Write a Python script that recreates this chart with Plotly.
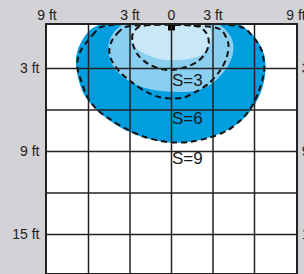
import plotly.graph_objects as go

# ---- data (feet) ----
x_tickvals = [-9, -3, 0, 3, 9]
x_ticktext = ["9 ft", "3 ft", "0", "3 ft", "9 ft"]
y_tickvals = [3, 9, 15]
y_ticktext = ["3 ft", "9 ft", "15 ft"]
grid_x = [-6, -3, 0, 3, 6]
grid_y = [3, 6, 9, 12, 15]

sensor_x = [0]
sensor_y = [0]

# filled zones
fill_s9_x = [-5.17, -5.89, -6.40, -6.76, -6.91, -6.87, -6.69, -6.33, -5.75, -4.88, -3.72, -2.28, -0.83, 0.0,
             0.98, 2.42, 3.87, 5.10, 5.89, 6.40, 6.69, 6.80, 6.69, 6.25, 5.68, 4.95]
fill_s9_y = [-0.2, 0.23, 0.88, 1.61, 2.33, 3.05, 3.92, 4.86, 5.66, 6.46, 7.25, 7.90, 8.26, 8.37,
             8.33, 8.08, 7.54, 6.74, 5.80, 4.86, 3.92, 2.91, 1.97, 1.03, 0.38, -0.2]
fill_s6_x = [-3.58, -4.16, -4.52, -4.56, -4.37, -3.87, -3.15, -2.28, -1.19, 0.0,
             1.34, 2.42, 3.22, 3.94, 4.37, 4.48, 4.23, 3.72, 3.43]
fill_s6_y = [-0.2, 0.38, 1.10, 1.75, 2.55, 3.27, 3.85, 4.28, 4.57, 4.68,
             4.68, 4.39, 3.85, 3.05, 2.19, 1.32, 0.60, 0.02, -0.2]
fill_s3_x = [-2.57, -2.86, -2.89, -2.78, -2.49, -1.55, -0.83, 0.0, 1.19, 2.28, 2.75, 2.89, 2.78, 2.57]
fill_s3_y = [-0.2, 0.16, 0.74, 1.25, 1.61, 2.11, 2.33, 2.40, 2.33, 1.97, 1.32, 0.67, 0.09, -0.2]

# dashed contour lines
line_s9_x = [-5.1, -5.53, -6.13, -6.62, -6.81, -6.74, -6.49, -6.13, -5.41, -4.45, -3.24, -2.04, -0.83, 0.0,
             1.34, 2.78, 3.99, 4.95, 5.68, 6.28, 6.64, 6.71, 6.52, 5.91, 5.08, -5.1]
line_s9_y = [0.0, 0.38, 1.10, 1.82, 2.55, 3.27, 4.0, 4.98, 5.95, 6.67, 7.39, 7.92, 8.24, 8.35,
             8.31, 7.99, 7.51, 6.79, 5.95, 4.74, 3.54, 2.91, 1.70, 0.74, 0.02, 0.0]
line_s6_x = [-3.35, -3.75, -4.3, -4.5, -4.32, -3.72, -2.88, -1.79, -0.83, 0.0,
             0.9, 1.7, 2.66, 3.51, 3.99, 4.11, 3.63, 2.9, -3.35]
line_s6_y = [0.0, 0.3, 0.98, 1.7, 2.43, 3.27, 3.99, 4.72, 5.08, 5.17,
             5.1, 4.72, 4.11, 3.15, 2.19, 1.22, 0.26, 0.0, 0.0]
line_s3_x = [-2.35, -2.8, -2.8, -2.40, -1.68, -0.83, 0.0, 0.98, 1.82, 2.42, 2.7, 2.55, 2.0, -2.35]
line_s3_y = [0.0, 0.50, 1.22, 2.06, 2.67, 3.03, 3.12, 2.91, 2.55, 1.95, 1.22, 0.50, 0.0, 0.0]

zone_labels = ["S=3", "S=6", "S=9"]

# ---- figure ----
fig = go.Figure()

for fx, fy, col in [(fill_s9_x, fill_s9_y, "#009ddf"),
                    (fill_s6_x, fill_s6_y, "#8acef0"),
                    (fill_s3_x, fill_s3_y, "#c8e7f8")]:
    fig.add_trace(go.Scatter(x=fx, y=fy, mode="lines", fill="toself", fillcolor=col,
                             line=dict(width=0, shape="spline", smoothing=0.9),
                             hoverinfo="skip"))

for lx, ly in [(line_s9_x, line_s9_y), (line_s6_x, line_s6_y), (line_s3_x, line_s3_y)]:
    fig.add_trace(go.Scatter(x=lx, y=ly, mode="lines",
                             line=dict(color="#111111", width=2, dash="6px,4px",
                                       shape="spline", smoothing=0.9),
                             hoverinfo="skip"))

fig.add_trace(go.Scatter(x=sensor_x, y=sensor_y, mode="markers", yaxis="y2",
                         marker=dict(symbol="square", size=7, color="#000000"),
                         cliponaxis=False, hoverinfo="skip"))

label_pos_y = [3.85, 6.6, 9.5]
for txt, ly in zip(zone_labels, label_pos_y):
    fig.add_annotation(x=-0.12, y=ly, text=txt, showarrow=False, xanchor="left", yanchor="middle",
                       font=dict(size=17, color="#1a1a1a", family="Liberation Sans, Arial, sans-serif"))

shapes = []
for gx in grid_x:
    shapes.append(dict(type="line", xref="x", yref="paper", x0=gx, x1=gx, y0=0, y1=1,
                       line=dict(color="#222222", width=1.5), layer="above"))
for gy in grid_y:
    shapes.append(dict(type="line", xref="paper", yref="y", x0=0, x1=1, y0=gy, y1=gy,
                       line=dict(color="#222222", width=1.5), layer="above"))

tickfont = dict(size=14, color="#222222", family="Liberation Sans, Arial, sans-serif")
y_range = [17.79, -0.14]

fig.update_layout(
    width=304, height=274,
    margin=dict(l=47, r=8, t=25, b=1),
    paper_bgcolor="#d3d2d7",
    plot_bgcolor="#ffffff",
    showlegend=False,
    shapes=shapes,
    xaxis=dict(range=[-9, 9], side="top", tickmode="array", tickvals=x_tickvals, ticktext=x_ticktext,
               showgrid=False, zeroline=False, showline=True, mirror=True, linecolor="#222222",
               linewidth=1.5, ticks="", ticklabelstandoff=-2, ticklabeloverflow="allow",
               tickfont=tickfont, fixedrange=True, automargin=False),
    yaxis=dict(range=y_range, tickmode="array", tickvals=y_tickvals, ticktext=y_ticktext,
               showgrid=False, zeroline=False, showline=True, mirror=True, linecolor="#222222",
               linewidth=1.5, ticks="outside", ticklen=3, tickcolor="rgba(0,0,0,0)",
               ticklabeloverflow="allow",
               tickfont=tickfont, fixedrange=True, automargin=False),
    yaxis2=dict(range=y_range, overlaying="y", side="right", tickmode="array",
                tickvals=y_tickvals, ticktext=y_ticktext, showgrid=False, zeroline=False,
                showline=False, ticks="outside", ticklen=2, tickcolor="rgba(0,0,0,0)",
                ticklabeloverflow="allow",
                tickfont=tickfont, fixedrange=True, automargin=False),
)

fig.write_html("out.html", config={"displayModeBar": False},
               post_script="document.body.style.margin='0';document.body.style.padding='0';"
                           "document.body.style.background='#d3d2d7';")
